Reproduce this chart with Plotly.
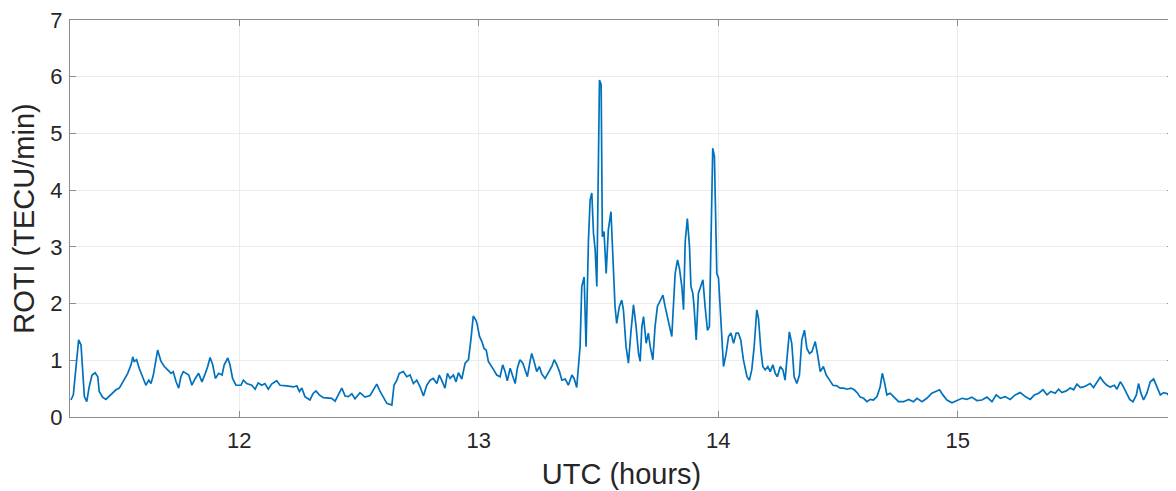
import plotly.graph_objects as go

# UTC time (hours) and ROTI (TECU/min)
utc_hours = [
    11.297, 11.307, 11.329, 11.339, 11.353, 11.363, 11.373, 11.385, 11.398, 11.409,
    11.415, 11.429, 11.443, 11.464, 11.485, 11.499, 11.506, 11.520, 11.534, 11.548,
    11.555, 11.561, 11.571, 11.582, 11.597, 11.610, 11.622, 11.631, 11.641, 11.659,
    11.673, 11.687, 11.701, 11.715, 11.724, 11.736, 11.747, 11.756, 11.766, 11.777,
    11.789, 11.802, 11.816, 11.830, 11.844, 11.858, 11.868, 11.878, 11.889, 11.900,
    11.914, 11.928, 11.937, 11.952, 11.961, 11.972, 11.986, 12.007,
    12.017, 12.031, 12.052, 12.066, 12.079, 12.094, 12.107, 12.121, 12.135, 12.156,
    12.170, 12.198, 12.226, 12.240, 12.251, 12.261, 12.274, 12.295, 12.309, 12.320,
    12.334, 12.351, 12.372, 12.386, 12.400, 12.414, 12.428, 12.442, 12.455, 12.470,
    12.483, 12.504, 12.525, 12.546, 12.560, 12.574, 12.588, 12.602, 12.616, 12.637,
    12.646, 12.658, 12.668, 12.685, 12.699, 12.713, 12.727, 12.741, 12.755, 12.769,
    12.783, 12.797, 12.810, 12.825, 12.835, 12.845, 12.859, 12.869, 12.880, 12.894,
    12.905, 12.915, 12.929, 12.943, 12.957, 12.967,
    12.977, 12.989, 12.994, 13.003, 13.013, 13.022, 13.031, 13.040, 13.050, 13.061,
    13.075, 13.089, 13.100, 13.110, 13.119, 13.131, 13.142, 13.152, 13.161, 13.172,
    13.184, 13.193, 13.203, 13.214, 13.221, 13.231, 13.242, 13.253, 13.263, 13.277,
    13.291, 13.305, 13.315, 13.326, 13.337, 13.347, 13.361, 13.374, 13.389, 13.398,
    13.409, 13.416,
    13.423, 13.430, 13.440, 13.448, 13.458, 13.465, 13.472, 13.479, 13.486, 13.493,
    13.500, 13.504, 13.511, 13.516, 13.523, 13.532, 13.541, 13.552, 13.560, 13.569,
    13.576, 13.587, 13.597, 13.604, 13.615, 13.625, 13.635, 13.646, 13.657, 13.667,
    13.674, 13.681, 13.688, 13.699, 13.708, 13.716, 13.727, 13.736, 13.746, 13.757,
    13.769, 13.778, 13.792, 13.806, 13.820, 13.830, 13.838, 13.848, 13.855, 13.862,
    13.871, 13.880, 13.886, 13.894, 13.899, 13.908, 13.917, 13.927, 13.936, 13.945,
    13.955, 13.963, 13.973, 13.977, 13.984, 13.994, 14.001, 14.011, 14.022, 14.033,
    14.043, 14.053, 14.064, 14.075, 14.084, 14.094, 14.105, 14.120,
    14.130, 14.140, 14.150, 14.161, 14.168, 14.178, 14.186, 14.196, 14.207, 14.217,
    14.228, 14.238, 14.247, 14.259, 14.270, 14.279, 14.289, 14.297, 14.307, 14.317,
    14.328, 14.339, 14.349, 14.360, 14.370, 14.381, 14.391, 14.405, 14.414, 14.426,
    14.439, 14.451, 14.465, 14.479, 14.495, 14.509, 14.523, 14.537, 14.554, 14.568,
    14.582, 14.593, 14.607, 14.621, 14.635, 14.648, 14.663, 14.676, 14.685, 14.694,
    14.704, 14.718, 14.732, 14.753,
    14.774, 14.795, 14.815, 14.830, 14.851, 14.871, 14.892, 14.906, 14.924, 14.938,
    14.955, 14.976, 14.997, 15.018, 15.038, 15.059, 15.080, 15.101, 15.122, 15.143,
    15.161, 15.178, 15.198, 15.219, 15.240, 15.261, 15.282, 15.303, 15.320, 15.338,
    15.356, 15.373, 15.389, 15.407, 15.421, 15.435, 15.453, 15.470, 15.484, 15.498,
    15.512, 15.525, 15.540, 15.553, 15.567, 15.581, 15.595, 15.609, 15.623, 15.637,
    15.654, 15.665, 15.679, 15.690, 15.704, 15.718, 15.732, 15.746, 15.755, 15.765,
    15.776, 15.790, 15.804, 15.818, 15.832, 15.846, 15.860, 15.876, 15.895,
]

roti = [
    0.30, 0.39, 1.36, 1.27, 0.36, 0.27, 0.53, 0.74, 0.78, 0.71,
    0.45, 0.35, 0.31, 0.39, 0.48, 0.51, 0.56, 0.65, 0.77, 0.92,
    1.06, 0.98, 1.01, 0.86, 0.71, 0.56, 0.65, 0.59, 0.74, 1.18,
    0.98, 0.89, 0.83, 0.77, 0.80, 0.62, 0.51, 0.71, 0.80, 0.77,
    0.74, 0.56, 0.68, 0.77, 0.62, 0.77, 0.89, 1.05, 0.92, 0.68,
    0.77, 0.74, 0.92, 1.04, 0.92, 0.68, 0.56, 0.56,
    0.65, 0.59, 0.56, 0.49, 0.60, 0.56, 0.59, 0.49, 0.58, 0.64,
    0.56, 0.55, 0.53, 0.55, 0.45, 0.51, 0.36, 0.30, 0.42, 0.46,
    0.39, 0.34, 0.33, 0.33, 0.28, 0.39, 0.51, 0.37, 0.36, 0.41,
    0.32, 0.43, 0.35, 0.38, 0.48, 0.58, 0.45, 0.35, 0.24, 0.21,
    0.56, 0.65, 0.77, 0.80, 0.71, 0.74, 0.59, 0.65, 0.53, 0.37,
    0.56, 0.65, 0.68, 0.59, 0.74, 0.65, 0.51, 0.77, 0.68, 0.74,
    0.62, 0.78, 0.67, 0.95, 1.01, 1.36,
    1.78, 1.70, 1.62, 1.42, 1.33, 1.21, 1.18, 0.98, 0.92, 0.84,
    0.74, 0.71, 0.92, 0.80, 0.64, 0.86, 0.72, 0.59, 0.86, 1.01,
    0.95, 0.83, 0.71, 0.98, 1.12, 0.98, 0.80, 0.89, 0.76, 0.68,
    0.80, 0.89, 1.01, 0.92, 0.80, 0.65, 0.67, 0.56, 0.74, 0.68,
    0.52, 0.83,
    1.24, 2.30, 2.47, 1.24, 3.12, 3.83, 3.95, 3.24, 2.95, 2.30,
    4.53, 5.94, 5.86, 3.18, 3.27, 2.53, 3.30, 3.62, 2.83, 1.95,
    1.65, 1.95, 2.06, 1.89, 1.24, 0.95, 1.48, 1.98, 1.59, 1.12,
    0.98, 1.59, 1.77, 1.30, 1.48, 1.24, 1.01, 1.59, 1.95, 2.06,
    2.15, 1.95, 1.71, 1.42, 2.53, 2.77, 2.62, 2.30, 1.89, 3.09,
    3.50, 3.00, 2.30, 2.18, 1.95, 1.36, 2.18, 2.30, 2.42, 1.95,
    1.53, 1.59, 3.95, 4.74, 4.59, 2.53, 2.45, 1.71, 0.89, 1.12,
    1.42, 1.48, 1.30, 1.48, 1.48, 1.36, 1.01, 0.71,
    0.65, 0.83, 1.24, 1.89, 1.74, 1.18, 0.89, 0.83, 0.89, 0.80,
    0.92, 0.77, 0.71, 0.89, 0.83, 0.65, 1.12, 1.50, 1.30, 0.71,
    0.59, 0.74, 1.36, 1.53, 1.21, 1.12, 1.15, 1.33, 1.12, 0.80,
    0.89, 0.74, 0.65, 0.56, 0.55, 0.51, 0.51, 0.49, 0.51, 0.48,
    0.42, 0.35, 0.33, 0.27, 0.31, 0.30, 0.36, 0.53, 0.77, 0.62,
    0.39, 0.42, 0.36, 0.27,
    0.27, 0.31, 0.27, 0.33, 0.27, 0.33, 0.42, 0.45, 0.48, 0.39,
    0.30, 0.25, 0.29, 0.33, 0.31, 0.35, 0.29, 0.30, 0.35, 0.27,
    0.39, 0.33, 0.36, 0.31, 0.39, 0.43, 0.36, 0.31, 0.39, 0.42,
    0.48, 0.39, 0.45, 0.42, 0.49, 0.43, 0.46, 0.51, 0.48, 0.58,
    0.52, 0.53, 0.56, 0.59, 0.52, 0.60, 0.70, 0.62, 0.56, 0.53,
    0.56, 0.49, 0.62, 0.55, 0.42, 0.31, 0.27, 0.39, 0.59, 0.42,
    0.30, 0.42, 0.62, 0.67, 0.53, 0.39, 0.43, 0.41, 0.29,
]

x_ticks = [12, 13, 14, 15]
y_ticks = [0, 1, 2, 3, 4, 5, 6, 7]

FONT = "Liberation Sans, Arial, Helvetica, sans-serif"
TEXT = "#262626"
AXIS = "#8c8c8c"
GRID = "#ebebeb"

fig = go.Figure()
fig.add_trace(go.Scatter(
    x=utc_hours, y=roti, mode="lines",
    line=dict(color="#0072BD", width=1.7),
    showlegend=False, hoverinfo="skip",
))

# the page body has an 8px default margin, so the figure is sized to fill
# the remaining window area
fig.update_layout(
    width=1168, height=483,
    margin=dict(l=62, r=3, t=12, b=74),
    paper_bgcolor="white", plot_bgcolor="white",
    font=dict(family=FONT, color=TEXT, size=22),
)

fig.update_xaxes(
    range=[11.293, 15.899], tickvals=x_ticks, ticktext=[str(t) for t in x_ticks],
    showgrid=True, gridcolor=GRID, gridwidth=1,
    zeroline=False, showline=True, linecolor=AXIS, linewidth=1.2, mirror="ticks",
    ticks="inside", ticklen=6, tickcolor=AXIS, tickwidth=1,
    tickfont=dict(size=22, color=TEXT), ticklabelstandoff=3,
    ticklabeloverflow="allow",
    title=dict(text="UTC (hours)", font=dict(size=29, color=TEXT), standoff=12),
    automargin=False,
)
fig.update_yaxes(
    range=[0, 7], tickvals=y_ticks, ticktext=[str(t) for t in y_ticks],
    showgrid=True, gridcolor=GRID, gridwidth=1,
    zeroline=False, showline=True, linecolor=AXIS, linewidth=1.2, mirror="ticks",
    ticks="inside", ticklen=6, tickcolor=AXIS, tickwidth=1,
    tickfont=dict(size=22, color=TEXT), ticklabelstandoff=2,
    ticklabeloverflow="allow",
    title=dict(text="ROTI (TECU/min)", font=dict(size=29, color=TEXT), standoff=12),
    automargin=False,
)

fig.write_html("out.html")
